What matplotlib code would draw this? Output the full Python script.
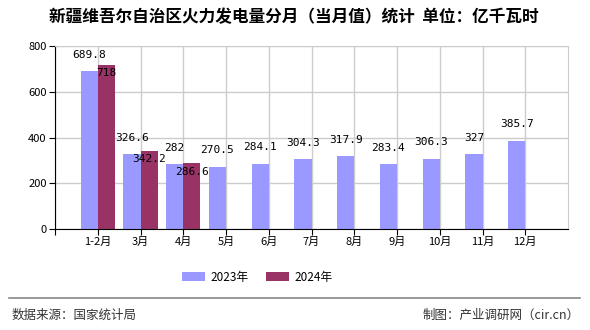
import matplotlib
matplotlib.use('Agg')
import matplotlib.pyplot as plt
import numpy as np

plt.rcParams['font.family'] = ['Noto Sans CJK SC', 'DejaVu Sans']

months = ['1-2月', '3月', '4月', '5月', '6月', '7月', '8月', '9月', '10月', '11月', '12月']
vals_2023 = [689.8, 326.6, 282, 270.5, 284.1, 304.3, 317.9, 283.4, 306.3, 327, 385.7]
vals_2024 = [718, 342.2, 286.6]
labels_2023 = ['689.8', '326.6', '282', '270.5', '284.1', '304.3', '317.9', '283.4', '306.3', '327', '385.7']
labels_2024 = ['718', '342.2', '286.6']

c2023 = '#9999ff'
c2024 = '#993366'

fig = plt.figure(figsize=(5.9, 3.3), dpi=100)
ax = fig.add_axes([55 / 590, 1 - 229 / 330, (568 - 55) / 590, (229 - 46) / 330])

x = np.arange(len(months))
w = 0.4
ax.bar(x - w / 2, vals_2023, w, color=c2023, label='2023年', zorder=2)
ax.bar(x[:len(vals_2024)] + w / 2, vals_2024, w, color=c2024, label='2024年', zorder=2)

for xi, v, s in zip(x, vals_2023, labels_2023):
    ax.annotate(s, (xi - w / 2, v), xytext=(0, 12), textcoords='offset points',
                ha='center', va='center', fontsize=8, family='DejaVu Sans Mono', zorder=3)
for xi, v, s in zip(x, vals_2024, labels_2024):
    ax.annotate(s, (xi + w / 2, v), xytext=(0, -6), textcoords='offset points',
                ha='center', va='center', fontsize=8, family='DejaVu Sans Mono', zorder=3)

ax.set_xlim(-1, len(months))
ax.set_ylim(0, 800)
ax.set_yticks([0, 200, 400, 600, 800])
ax.set_xticks(np.arange(-1, len(months)))
ax.set_xticklabels([''] + months, fontsize=8)
ax.tick_params(axis='y', labelsize=8, length=4, pad=2)
ax.tick_params(axis='x', length=4, pad=2)
ax.grid(True, color='#cccccc', linewidth=1, zorder=0)
ax.set_axisbelow(True)
for side in ['top', 'right']:
    ax.spines[side].set_color('#cccccc')
for side in ['left', 'bottom']:
    ax.spines[side].set_color('black')

fig.text(294 / 590, 1 - 17 / 330, '新疆维吾尔自治区火力发电量分月（当月值）统计  单位：亿千瓦时',
         ha='center', va='center', fontsize=12, fontweight='bold')

fig.legend(loc='center', bbox_to_anchor=(257 / 590, 1 - 277 / 330), ncol=2, frameon=False,
           fontsize=8.5, handlelength=2, handleheight=0.8, columnspacing=1.5, handletextpad=0.4)

fig.add_artist(plt.Line2D([9 / 590, 580 / 590], [1 - 298 / 330, 1 - 298 / 330],
                          color='#888888', linewidth=1.2))
fig.text(12 / 590, 1 - 315 / 330, '数据来源：国家统计局', ha='left', va='center', fontsize=9, color='#333333')
fig.text(580 / 590, 1 - 315 / 330, '制图：产业调研网（cir.cn）', ha='right', va='center', fontsize=9, color='#333333')

fig.savefig('out.png', dpi=100)
